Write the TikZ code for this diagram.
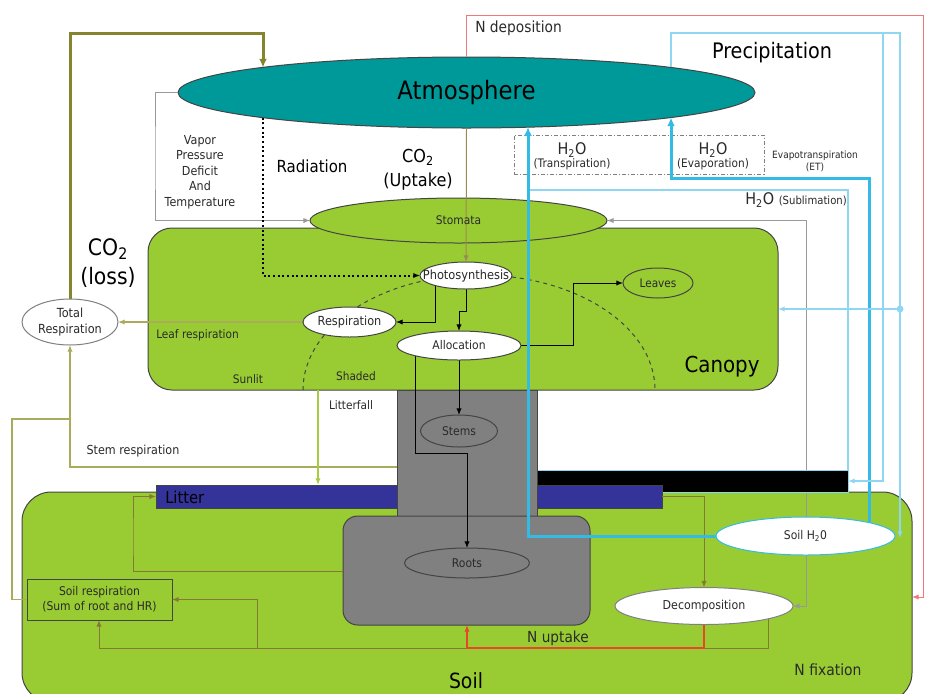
\documentclass[tikz,border=0pt]{standalone}
\usepackage{fontspec}
\setmainfont{DejaVu Sans}[FakeStretch=0.9]
\usetikzlibrary{shapes.geometric,arrows.meta,calc}
\pgfdeclarelayer{L0}\pgfdeclarelayer{L1}\pgfdeclarelayer{L2}\pgfdeclarelayer{L3}\pgfdeclarelayer{fg}
\pgfsetlayers{L0,L1,L2,L3,main,fg}
\definecolor{teal1}{HTML}{009999}
\definecolor{leaf}{HTML}{99CC33}
\definecolor{trunkg}{HTML}{808080}
\definecolor{litterb}{HTML}{333399}
\definecolor{bthick}{HTML}{33BBE6}
\definecolor{blight}{HTML}{8FD6F2}
\definecolor{nred}{HTML}{F07878}
\definecolor{upred}{HTML}{E8452A}
\definecolor{olivedark}{HTML}{858530}
\definecolor{olivelight}{HTML}{ABAB5C}
\definecolor{lime}{HTML}{A6CC45}
\definecolor{soilbrown}{HTML}{857A35}
\definecolor{uptake}{HTML}{9C8A55}
\definecolor{linegray}{HTML}{999999}
\definecolor{edge}{HTML}{444444}
\definecolor{txt}{HTML}{2A2A2A}
\begin{document}
\begin{tikzpicture}[x=0.75pt,y=-0.75pt,
 box/.style={draw=edge, line width=0.75pt, inner sep=0, outer sep=0},
 ell/.style={ellipse, draw=edge, line width=0.75pt, inner sep=0, outer sep=0},
 lbl/.style={inner sep=0, text=txt, align=center},
 tip/.style={-{Latex[length=5pt,width=4pt]}},
 bigtip/.style={-{Latex[length=6.5pt,width=6pt]}},
 thinl/.style={line width=0.75pt},
 medl/.style={line width=1.1pt},
 thickl/.style={line width=2.25pt},
 small/.style={font=\fontsize{8.8}{11}\selectfont},
]
\useasboundingbox (0,0) rectangle (930,693);

\begin{pgfonlayer}{L0}
\fill[white] (0,0) rectangle (930,693);
\node[box, fill=leaf, rounded corners=22pt, minimum width=667.5pt, minimum height=157.5pt] (soil) at (467,597) {};
\end{pgfonlayer}

\begin{pgfonlayer}{L2}
\node[box, draw=blight, fill=black, minimum width=233.25pt, minimum height=16.5pt] (snow) at (692.5,481) {};
\node[box, fill=litterb, minimum width=379.5pt, minimum height=17.25pt] (litter) at (409,496.5) {};
\node[box, fill=trunkg, minimum width=105pt, minimum height=95.25pt] (trunk) at (467,453.5) {};
\node[box, fill=trunkg, rounded corners=11pt, minimum width=185.25pt, minimum height=81.75pt] (rootsreg) at (466.5,570.5) {};
\node[box, fill=leaf, rounded corners=18pt, minimum width=472.5pt, minimum height=121.5pt] (canopy) at (463,309) {};
\node[box, fill=leaf, minimum width=108.75pt, minimum height=30.75pt] (sresp) at (99.5,599.5) {};
\node[draw=gray, dash pattern=on 3pt off 1.5pt on 0.75pt off 1.5pt, line width=0.75pt, inner sep=0, minimum width=187.5pt, minimum height=29.25pt] (etbox) at (639,154.5) {};
\end{pgfonlayer}

\begin{pgfonlayer}{L3}
\draw[edge, thinl, dashed] (303,390) arc[start angle=180, end angle=0, x radius=132pt, y radius=86.25pt];
\node[ell, fill=leaf, minimum width=222.75pt, minimum height=33.75pt] (stom) at (458.5,220.5) {};
\node[ell, fill=teal1, minimum width=432.75pt, minimum height=53.25pt] (atm) at (466.5,92.5) {};
\end{pgfonlayer}

\begin{pgfonlayer}{fg}
\node[ell, fill=white, minimum width=69pt, minimum height=20.25pt] (photo) at (466,275.5) {};
\node[ell, fill=white, minimum width=69.75pt, minimum height=22.5pt] (resp) at (349.5,322) {};
\node[ell, fill=white, minimum width=93pt, minimum height=21.75pt] (alloc) at (459,345.5) {};
\node[ell, fill=leaf, minimum width=52.5pt, minimum height=22.5pt] (leaves) at (658,283) {};
\node[ell, draw=gray, fill=white, minimum width=72pt, minimum height=34.5pt] (totresp) at (70,322) {};
\node[ell, fill=trunkg, minimum width=57.75pt, minimum height=24pt] (stems) at (459,431) {};
\node[ell, fill=trunkg, minimum width=93.75pt, minimum height=22.5pt] (roots) at (467,563) {};
\node[ell, draw=bthick, fill=white, minimum width=134.25pt, minimum height=28.5pt] (sh) at (805.5,536) {};
\node[ell, draw=gray, fill=white, minimum width=133.5pt, minimum height=27.75pt] (dec) at (704,606) {};
\end{pgfonlayer}

% named junctions
\coordinate (jsr) at (70,419);
\coordinate (jb) at (257,648);
\coordinate (subl) at (529,190);
\coordinate (soilin) at (900,538);
\coordinate (pA) at (883,33);
\coordinate (pB) at (900,309);

% behind-layer grey line
\begin{pgfonlayer}{L1}
\draw[linegray, thinl, {Latex[length=5pt,width=4pt]}-{Latex[length=5pt,width=4pt]}] (stom.east) -| (806,400) |- (dec.east);
\end{pgfonlayer}

% connectors
\draw[olivedark, thickl, bigtip] (totresp.north) |- (263,33) -- (atm.173 -| 263,0);
\draw[linegray, thinl, tip] (atm.west) -| (155,160) |- (stom.west);
\draw[black, line width=1.5pt, dash pattern=on 1.5pt off 2pt, tip] (atm.187 -| 263,0) |- (photo.west);
\draw[uptake, thinl, tip] (atm.south) -- (photo.north);
\draw[black, thinl, tip] (photo.198 -| 435,0) |- (resp.east);
\draw[black, thinl, tip] (photo.south) -- ++(0,22) -| (alloc.north);
\draw[black, thinl, tip] (alloc.east) -| (573,300) |- (leaves.west);
\draw[black, thinl, tip] (alloc.south) -- (stems.north);
\draw[black, thinl, tip] (alloc.193 -| 415,0) |- (467,453) -- (roots.north);
\draw[olivelight, medl, tip] (resp.west) -- (totresp.east);
\draw[olivelight, medl, tip] (trunk.west |- 0,467) -| (totresp.south);
\draw[olivelight, medl] (sresp.west) -| (12,419) -- (jsr);
\draw[lime, medl, tip] (canopy.south -| 318,0) -- (litter.north -| 318,0);
\draw[soilbrown, thinl, tip] (rootsreg.west |- 0,571) -| (133,540) |- (litter.west);
\draw[soilbrown, thinl, tip] (litter.east) -| (dec.north);
\draw[soilbrown, thinl, tip] (dec.349 -| 768,0) |- (99,648) -- (sresp.south -| 99,0);
\draw[soilbrown, thinl, tip] (jb) |- (sresp.east);
\draw[upred, medl, tip] (dec.south) |- (467,648) -- (rootsreg.south -| 467,0);
\draw[nred, thinl, tip] (atm.north) |- (923,15) |- (soil.east);
\draw[blight, medl] (snow.north east) |- (subl);
\draw[bthick, thickl, bigtip] (sh.west) -| (atm.331 -| 528,0);
\draw[bthick, thickl, bigtip] (sh.12 -| 869,0) |- (671,178) -- (atm.353 -| 671,0);
\draw[blight, medl, tip] (atm.7 -| 671,0) |- (900,33) -- (soilin);
\draw[blight, medl, tip] (pA) |- (snow.east);
\draw[blight, medl, tip] (pB) -- (canopy.east |- pB);
\fill[blight] (pB) circle (2.6pt);

% texts
\begin{pgfonlayer}{fg}
\node[lbl, text=black, font=\fontsize{19}{22}\selectfont] (tAtm) at (atm) {Atmosphere};
\node[lbl, font=\fontsize{9.3}{11.6}\selectfont] (tVPD) at (200,172) {Vapor\\Pressure\\Deficit\\And\\Temperature};
\node[lbl, text=black, font=\fontsize{12.5}{15}\selectfont] (tRad) at (312,166) {Radiation};
\node[lbl, text=black, font=\fontsize{13.4}{18}\selectfont] (tCOu) at (418,170) {CO\textsubscript{2}\\(Uptake)};
\node[lbl, text=black, font=\fontsize{17}{22}\selectfont] (tCOl) at (108,263) {CO\textsubscript{2}\\(loss)};
\node[lbl, text=black, font=\fontsize{16}{19}\selectfont] (tPre) at (772,53) {Precipitation};
\node[lbl, anchor=west, font=\fontsize{11.5}{14}\selectfont] (tNd) at (475,28) {N deposition};
\node[lbl, text=black, font=\fontsize{16.5}{19}\selectfont] (tCan) at (722,367) {Canopy};
\node[lbl, text=black, font=\fontsize{15.7}{19}\selectfont] (tSoil) at (466,681) {Soil};
\node[lbl, anchor=west, text=black, font=\fontsize{12.3}{14}\selectfont] (tLit) at (165,497) {Litter};
\node[lbl, font=\fontsize{11.4}{14}\selectfont] (tNu) at (558,638) {N uptake};
\node[lbl, font=\fontsize{11.6}{14}\selectfont] (tNf) at (828,670) {N fixation};
\node[lbl, font=\fontsize{12}{14}\selectfont] (tH1) at (572,150) {H\textsubscript{2}O};
\node[lbl, small] (tTr) at (572,164) {(Transpiration)};
\node[lbl, font=\fontsize{12}{14}\selectfont] (tH2) at (713,150) {H\textsubscript{2}O};
\node[lbl, small] (tEv) at (713,164) {(Evaporation)};
\node[lbl, font=\fontsize{7.5}{9}\selectfont] (tET) at (815,161) {Evapotranspiration\\(ET)};
\node[lbl, anchor=east, font=\fontsize{12}{14}\selectfont] (tSub) at (847,200) {H\textsubscript{2}O {\fontsize{8.4}{10}\selectfont (Sublimation)}};
\node[lbl, small, anchor=west] (tLr) at (156,335) {Leaf respiration};
\node[lbl, small] (tSun) at (248,379) {Sunlit};
\node[lbl, small] (tSha) at (356,376) {Shaded};
\node[lbl, small] (tLf) at (351,405) {Litterfall};
\node[lbl, font=\fontsize{9.3}{11}\selectfont] (tSr) at (133,451) {Stem respiration};
\node[lbl, font=\fontsize{8.9}{11}\selectfont] at (stom) {Stomata};
\node[lbl, font=\fontsize{9.5}{11}\selectfont] at (photo) {Photosynthesis};
\node[lbl, font=\fontsize{9.4}{11}\selectfont] at (resp) {Respiration};
\node[lbl, font=\fontsize{9}{11}\selectfont] at (alloc) {Allocation};
\node[lbl, font=\fontsize{8.8}{11}\selectfont] at (leaves) {Leaves};
\node[lbl, font=\fontsize{9.4}{12}\selectfont] at (totresp) {Total\\Respiration};
\node[lbl, font=\fontsize{9}{11}\selectfont] at (stems) {Stems};
\node[lbl, font=\fontsize{9}{11}\selectfont] at (roots) {Roots};
\node[lbl, font=\fontsize{9}{11}\selectfont] at (sh) {Soil H\textsubscript{2}0};
\node[lbl, font=\fontsize{9.2}{11}\selectfont] at (dec) {Decomposition};
\node[lbl, font=\fontsize{9}{11.25}\selectfont] at (sresp) {Soil respiration\\(Sum of root and HR)};
\end{pgfonlayer}
\end{tikzpicture}
\end{document}
